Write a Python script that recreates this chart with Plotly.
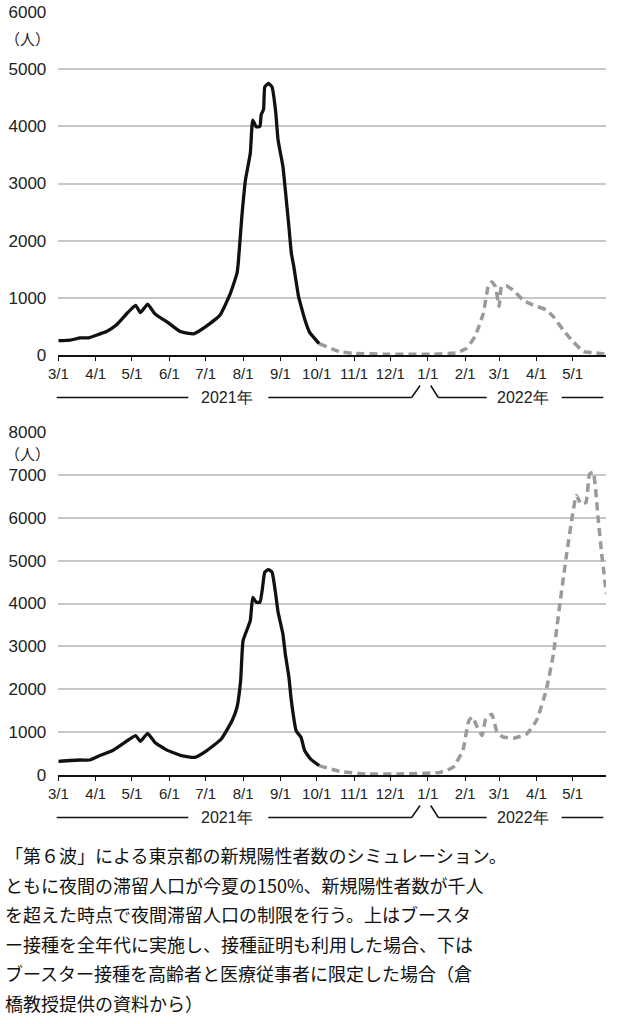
import plotly.graph_objects as go

W, H = 621, 1024

# ---- top chart: booster for all ages + vaccine certificate ----
top_actual_dates = ["2021-03-01", "2021-03-11", "2021-03-19", "2021-03-26", "2021-04-02", "2021-04-10",
                    "2021-04-18", "2021-04-27", "2021-05-04", "2021-05-08", "2021-05-14", "2021-05-20",
                    "2021-05-30", "2021-06-10", "2021-06-21", "2021-07-02", "2021-07-13", "2021-07-21",
                    "2021-07-27", "2021-07-28", "2021-07-31", "2021-08-03", "2021-08-07", "2021-08-09",
                    "2021-08-12", "2021-08-15", "2021-08-16", "2021-08-18", "2021-08-19", "2021-08-22",
                    "2021-08-25", "2021-08-28", "2021-08-30", "2021-09-03", "2021-09-05", "2021-09-08",
                    "2021-09-10", "2021-09-12", "2021-09-16", "2021-09-18", "2021-09-21", "2021-09-25",
                    "2021-10-03"]
top_actual_vals = [250, 260, 300, 300, 350, 410,
                   525, 730, 870, 740, 890, 720,
                   580, 410, 370, 510, 700, 1050,
                   1430, 1600, 2420, 3060, 3530, 4110,
                   3990, 4000, 4200, 4300, 4690, 4750,
                   4690, 4260, 3760, 3300, 2890, 2240,
                   1780, 1550, 1020, 860, 630, 400,
                   200]

top_sim_dates = ["2021-10-03", "2021-10-20", "2021-10-31", "2021-11-25", "2022-01-06", "2022-01-25",
                 "2022-02-02", "2022-02-09", "2022-02-16", "2022-02-20", "2022-02-23", "2022-02-26",
                 "2022-03-01", "2022-03-03", "2022-03-07", "2022-03-13", "2022-03-21", "2022-03-29",
                 "2022-04-09", "2022-04-15", "2022-04-23", "2022-05-01", "2022-05-10", "2022-05-18",
                 "2022-05-28"]
top_sim_vals = [200, 58, 30, 15, 15, 40,
                115, 320, 730, 1195, 1280, 1195,
                850, 1195, 1210, 1130, 960, 875,
                790, 670, 440, 240, 60, 40,
                15]

# ---- bottom chart: booster limited to elderly and medical staff ----
bot_actual_dates = ["2021-03-01", "2021-03-19", "2021-03-27", "2021-04-04", "2021-04-15", "2021-04-24",
                    "2021-05-04", "2021-05-08", "2021-05-14", "2021-05-20", "2021-05-30", "2021-06-11",
                    "2021-06-22", "2021-07-02", "2021-07-14", "2021-07-23", "2021-07-27", "2021-07-30",
                    "2021-08-01", "2021-08-07", "2021-08-09", "2021-08-12", "2021-08-15", "2021-08-17",
                    "2021-08-19", "2021-08-22", "2021-08-25", "2021-08-28", "2021-08-30", "2021-09-03",
                    "2021-09-05", "2021-09-08", "2021-09-10", "2021-09-14", "2021-09-18", "2021-09-21",
                    "2021-09-26", "2021-10-03"]
bot_actual_vals = [320, 350, 350, 450, 570, 740,
                   920, 785, 970, 760, 580, 450,
                   410, 570, 840, 1270, 1580, 2200,
                   3130, 3600, 4140, 4030, 4030, 4340,
                   4730, 4790, 4730, 4220, 3800, 3290,
                   2820, 2280, 1730, 1030, 880, 570,
                   370, 220]

bot_sim_dates = ["2021-10-03", "2021-10-20", "2021-11-11", "2021-12-09", "2022-01-11", "2022-01-22",
                 "2022-01-30", "2022-02-04", "2022-02-07", "2022-02-11", "2022-02-15", "2022-02-18",
                 "2022-02-23", "2022-02-27", "2022-03-04", "2022-03-13", "2022-03-24", "2022-04-01",
                 "2022-04-09", "2022-04-15", "2022-04-20", "2022-04-26", "2022-05-01", "2022-05-04",
                 "2022-05-08", "2022-05-12", "2022-05-15", "2022-05-18", "2022-05-22", "2022-05-25",
                 "2022-05-29"]
bot_sim_vals = [220, 85, 25, 25, 60, 180,
                570, 1270, 1350, 1110, 920, 1310,
                1420, 1030, 890, 860, 960, 1270,
                1970, 2820, 3910, 5160, 6090, 6520,
                6320, 6360, 7020, 7060, 6010, 5160,
                4220]

month_ticks = ["2021-03-01", "2021-04-01", "2021-05-01", "2021-06-01", "2021-07-01", "2021-08-01",
               "2021-09-01", "2021-10-01", "2021-11-01", "2021-12-01", "2022-01-01", "2022-02-01",
               "2022-03-01", "2022-04-01", "2022-05-01"]
month_labels = ["3/1", "4/1", "5/1", "6/1", "7/1", "8/1", "9/1", "10/1", "11/1", "12/1",
                "1/1", "2/1", "3/1", "4/1", "5/1"]

caption = [
    "「第６波」による東京都の新規陽性者数のシミュレーション。",
    "ともに夜間の滞留人口が今夏の150%、新規陽性者数が千人",
    "を超えた時点で夜間滞留人口の制限を行う。上はブースタ",
    "ー接種を全年代に実施し、接種証明も利用した場合、下は",
    "ブースター接種を高齢者と医療従事者に限定した場合（倉",
    "橋教授提供の資料から）",
]


def px(x):
    return x / W


def py(y):
    return 1 - y / H


NUM_FONT = "Liberation Sans, Arial, sans-serif"
JP_FONT = "Noto Sans CJK JP, sans-serif"
BLACK = "#111111"
GREY = "#9a9a9a"

fig = go.Figure()

panels = [
    ("x", "y", top_actual_dates, top_actual_vals, top_sim_dates, top_sim_vals),
    ("x2", "y2", bot_actual_dates, bot_actual_vals, bot_sim_dates, bot_sim_vals),
]
for xa, ya, ad, av, sd, sv in panels:
    fig.add_trace(go.Scatter(x=sd, y=sv, xaxis=xa, yaxis=ya, mode="lines",
                             line=dict(color=GREY, width=3.5, dash="8px,5px", shape="spline", smoothing=0.4),
                             hoverinfo="skip"))
    fig.add_trace(go.Scatter(x=ad, y=av, xaxis=xa, yaxis=ya, mode="lines",
                             line=dict(color=BLACK, width=3.3, shape="spline", smoothing=0.4),
                             hoverinfo="skip"))

xdom = [px(58.3), px(606)]
xrange_ = ["2021-03-01", "2022-05-28 14:00"]
xcommon = dict(type="date", range=xrange_, domain=xdom, tickmode="array", tickvals=month_ticks,
               ticktext=month_labels, ticks="outside", ticklen=4, tickwidth=1.3, tickcolor=BLACK,
               showline=True, linecolor=BLACK, linewidth=1.5, showgrid=False, zeroline=False,
               automargin=False,
               tickfont=dict(family=NUM_FONT, size=15, color="#222"), fixedrange=True)
ycommon = dict(showgrid=True, gridcolor="#c8c8c8", gridwidth=1.5, zeroline=False, showline=False,
               ticks="", tickfont=dict(family=NUM_FONT, size=17, color="#222"), automargin=False,
               ticklabelstandoff=11, fixedrange=True)

fig.update_layout(
    width=W, height=H,
    margin=dict(l=0, r=0, t=0, b=0, autoexpand=False),
    paper_bgcolor="white", plot_bgcolor="white",
    showlegend=False,
    xaxis=dict(anchor="y", **xcommon),
    yaxis=dict(domain=[py(355), py(12)], range=[0, 6000], tickvals=[0, 1000, 2000, 3000, 4000, 5000, 6000],
               anchor="x", **ycommon),
    xaxis2=dict(anchor="y2", **xcommon),
    yaxis2=dict(domain=[py(775), py(432)], range=[0, 8000],
                tickvals=[0, 1000, 2000, 3000, 4000, 5000, 6000, 7000, 8000], anchor="x2", **ycommon),
)

# unit labels
for yy in (38, 453):
    fig.add_annotation(x=px(27), y=py(yy), xref="paper", yref="paper", text="（人）", showarrow=False,
                       xanchor="center", yanchor="middle",
                       font=dict(family=JP_FONT, size=15, color="#222"))

# year brackets under each axis
for base in (397.5, 817.5):
    segs = [
        ((56.7, base), (188.3, base)),
        ((268.3, base), (411.7, base)),
        ((411.7, base), (420, base - 12)),
        ((430.7, base - 12), (438.3, base)),
        ((438.3, base), (486.7, base)),
        ((561.7, base), (603.3, base)),
    ]
    for (x0, y0), (x1, y1) in segs:
        fig.add_shape(type="line", xref="paper", yref="paper", x0=px(x0), y0=py(y0), x1=px(x1), y1=py(y1),
                      line=dict(color=BLACK, width=1.5))
    for label, cx in (("2021年", 226.7), ("2022年", 523)):
        fig.add_annotation(x=px(cx), y=py(base), xref="paper", yref="paper", text=label, showarrow=False,
                           xanchor="center", yanchor="middle",
                           font=dict(family=NUM_FONT, size=16, color="#222"))

# caption
for i, line in enumerate(caption):
    fig.add_annotation(x=px(3), y=py(855 + i * 29.6), xref="paper", yref="paper", text=line,
                       showarrow=False, xanchor="left", yanchor="middle",
                       font=dict(family=JP_FONT, size=18, color="#111"))

fig.write_html("out.html", config={"displayModeBar": False},
               post_script="document.body.style.margin='0';document.body.style.overflow='hidden';")
